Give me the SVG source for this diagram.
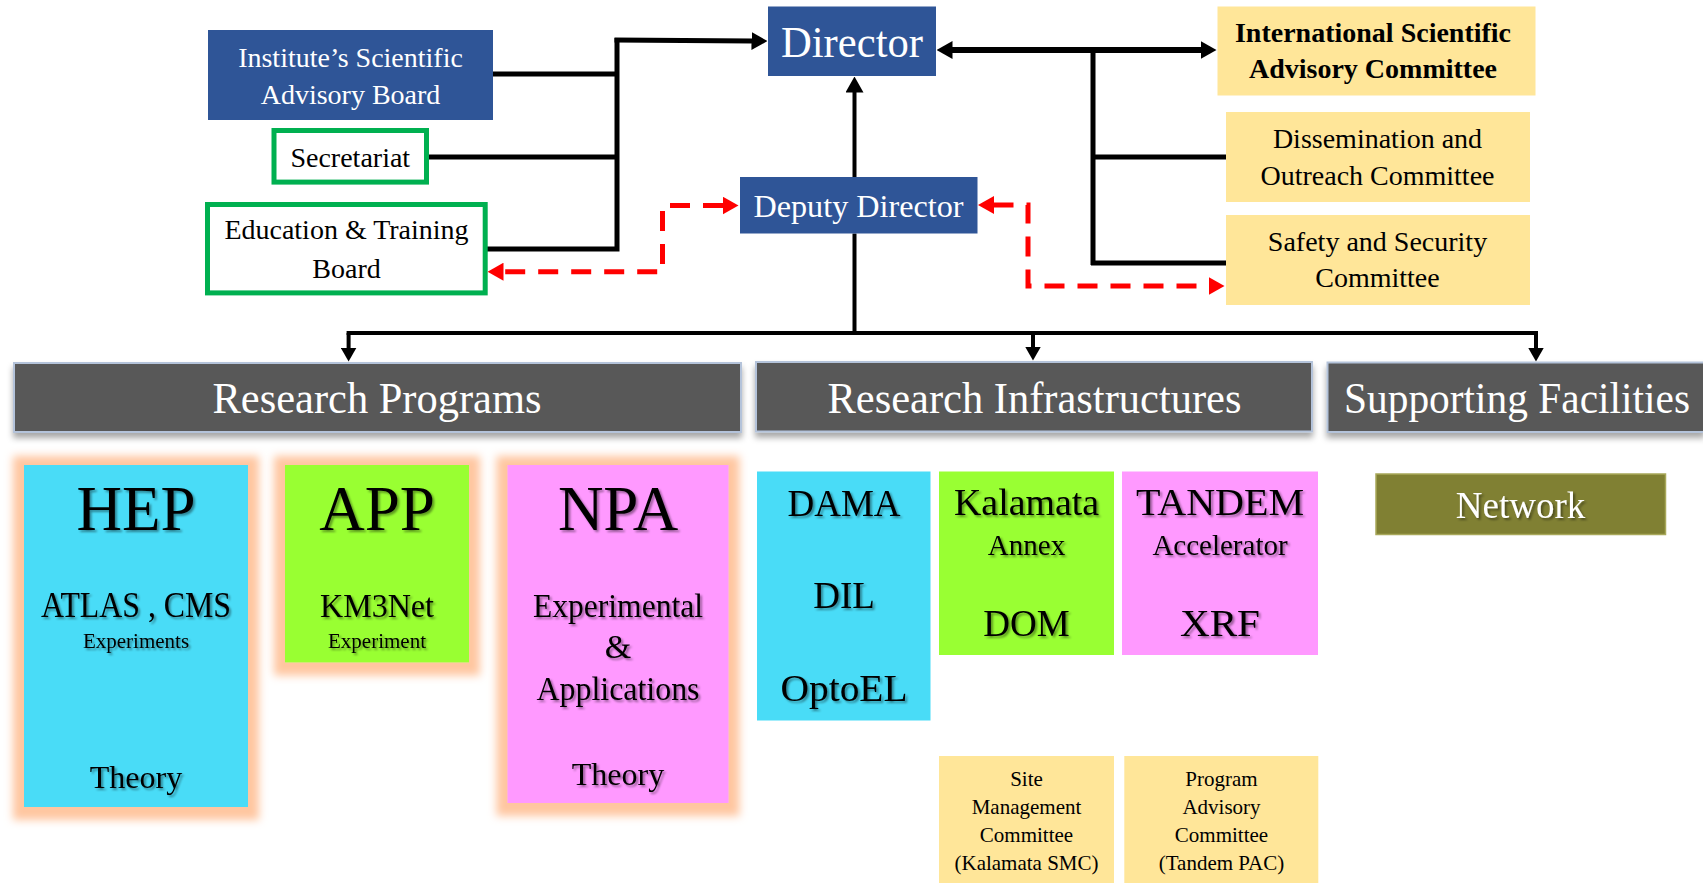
<svg xmlns="http://www.w3.org/2000/svg" width="1703" height="883" viewBox="0 0 1703 883">
<style>
.t{font-family:"Liberation Serif","Times New Roman",serif;text-anchor:middle}
.w{fill:#fff}
.k{fill:#000}
.blue{fill:#2F5597}
.yel{fill:#FFE699}
.grn{fill:#fff;stroke:#00B050;stroke-width:5}
.hdr{fill:#595959;stroke:#B4C3DA;stroke-width:2}
.cy{fill:#49DCF7}
.li{fill:#99FF33}
.pk{fill:#FF99FF}
.ln{fill:none;stroke:#000}
.rd{fill:none;stroke:#FF0000;stroke-width:5;stroke-dasharray:20 13}
</style>
<defs>
<marker id="ak" viewBox="0 0 16 18" refX="0.5" refY="9" markerWidth="16" markerHeight="18" markerUnits="userSpaceOnUse" orient="auto-start-reverse"><path d="M0,0 L16,9 L0,18 z" fill="#000"/></marker>
<marker id="ak2" viewBox="0 0 14 16" refX="0.5" refY="8" markerWidth="14" markerHeight="16" markerUnits="userSpaceOnUse" orient="auto-start-reverse"><path d="M0,0 L14,8 L0,16 z" fill="#000"/></marker>
<marker id="ar" viewBox="0 0 16 18" refX="0.5" refY="9" markerWidth="16" markerHeight="18" markerUnits="userSpaceOnUse" orient="auto-start-reverse"><path d="M0,0 L16,9 L0,18 z" fill="#FF0000"/></marker>
<filter id="glow" filterUnits="userSpaceOnUse" x="0" y="430" width="760" height="420">
<feMorphology in="SourceAlpha" operator="dilate" radius="11" result="d"/>
<feGaussianBlur in="d" stdDeviation="4" result="b"/>
<feOffset in="b" dy="2" result="bo"/>
<feFlood flood-color="#FFC6A0"/>
<feComposite in2="bo" operator="in" result="g"/>
<feMerge><feMergeNode in="g"/><feMergeNode in="SourceGraphic"/></feMerge>
</filter>
<filter id="hs" x="-5%" y="-20%" width="110%" height="160%">
<feDropShadow dx="0" dy="5" stdDeviation="3" flood-color="#000" flood-opacity="0.35"/>
</filter>
<filter id="ts" x="-10%" y="-20%" width="130%" height="150%">
<feDropShadow dx="2" dy="2" stdDeviation="1" flood-color="#000" flood-opacity="0.4"/>
</filter>
</defs>

<g id="connectors">
<path class="ln" stroke-width="5" d="M493,74 H617 M429,157 H617 M487,249 H619.5 M617,38 V251.5"/>
<path class="ln" stroke-width="5" d="M614.5,40 L752,41" marker-end="url(#ak)"/>
<path class="ln" stroke-width="4" d="M854.5,177 V92" marker-end="url(#ak)"/>
<path class="ln" stroke-width="4" d="M854.5,233.5 V333 M346.6,333 H1538"/>
<path class="ln" stroke-width="4" d="M348.6,333 V348" marker-end="url(#ak2)"/>
<path class="ln" stroke-width="4" d="M1033,333 V347" marker-end="url(#ak2)"/>
<path class="ln" stroke-width="4" d="M1536,333 V348" marker-end="url(#ak2)"/>
<path class="ln" stroke-width="6" d="M952,50 H1201" marker-start="url(#ak)" marker-end="url(#ak)"/>
<path class="ln" stroke-width="5" d="M1093,48 V265 M1093,157 H1226 M1091,263 H1226"/>
<path class="rd" d="M723,205.5 H662.5 V271.7 H503" marker-start="url(#ar)" marker-end="url(#ar)"/>
<path class="rd" d="M993.5,205 H1028 V286 H1209" marker-start="url(#ar)" marker-end="url(#ar)"/>
</g>

<g id="isab"><rect class="blue" x="208" y="30" width="285" height="90"/>
<text class="t w" font-size="28" x="350.5" y="66.7">Institute’s Scientific</text>
<text class="t w" font-size="28" x="350.5" y="104">Advisory Board</text></g>

<g id="secretariat"><rect class="grn" x="274" y="130.5" width="152.5" height="51.6"/>
<text class="t k" font-size="28" x="350.3" y="166.7">Secretariat</text></g>

<g id="education"><rect class="grn" x="207.5" y="204.5" width="277.7" height="88.4"/>
<text class="t k" font-size="28" x="346.5" y="239">Education &amp; Training</text>
<text class="t k" font-size="28" x="346.5" y="278">Board</text></g>

<g id="director"><rect class="blue" x="768" y="6.5" width="168" height="69.5"/>
<text class="t w" font-size="45" x="852" y="57" textLength="142" lengthAdjust="spacingAndGlyphs">Director</text></g>

<g id="deputy"><rect class="blue" x="740" y="177" width="237.5" height="56.5"/>
<text class="t w" font-size="32" x="858.5" y="216.7" textLength="210" lengthAdjust="spacingAndGlyphs">Deputy Director</text></g>

<g id="isac"><rect class="yel" x="1217.5" y="6.5" width="318" height="89"/>
<text class="t k" font-size="28" font-weight="bold" x="1373" y="41.7">International Scientific</text>
<text class="t k" font-size="28" font-weight="bold" x="1373" y="78.3">Advisory Committee</text></g>

<g id="dissemination"><rect class="yel" x="1226" y="112" width="304" height="90"/>
<text class="t k" font-size="28" x="1377.5" y="148.3">Dissemination and</text>
<text class="t k" font-size="28" x="1377.5" y="185">Outreach Committee</text></g>

<g id="safety"><rect class="yel" x="1226" y="215" width="304" height="90"/>
<text class="t k" font-size="28" x="1377.5" y="250.7">Safety and Security</text>
<text class="t k" font-size="28" x="1377.5" y="287.3">Committee</text></g>

<g id="research-programs"><rect class="hdr" x="14" y="363" width="727" height="69" filter="url(#hs)"/>
<text class="t w" font-size="44" x="377" y="413" textLength="329" lengthAdjust="spacingAndGlyphs">Research Programs</text></g>

<g id="research-infrastructures"><rect class="hdr" x="756" y="362" width="556" height="69.5" filter="url(#hs)"/>
<text class="t w" font-size="44" x="1034.5" y="413" textLength="414" lengthAdjust="spacingAndGlyphs">Research Infrastructures</text></g>

<g id="supporting-facilities"><rect class="hdr" x="1327.5" y="362.5" width="376.5" height="69.5" filter="url(#hs)"/>
<text class="t w" font-size="44" x="1517" y="413" textLength="346" lengthAdjust="spacingAndGlyphs">Supporting Facilities</text></g>

<g id="hep"><rect class="cy" x="24" y="465" width="224" height="342" filter="url(#glow)"/>
<g filter="url(#ts)">
<text class="t k" font-size="63" x="136" y="530">HEP</text>
<text class="t k" font-size="35" x="136" y="616.7" textLength="190" lengthAdjust="spacingAndGlyphs">ATLAS , CMS</text>
<text class="t k" font-size="21" x="136" y="648">Experiments</text>
<text class="t k" font-size="32" x="136" y="788">Theory</text></g></g>

<g id="app"><rect class="li" x="285" y="465" width="184" height="197.5" filter="url(#glow)"/>
<g filter="url(#ts)">
<text class="t k" font-size="63" x="377" y="530">APP</text>
<text class="t k" font-size="34" x="377" y="616.7" textLength="114" lengthAdjust="spacingAndGlyphs">KM3Net</text>
<text class="t k" font-size="21" x="377" y="648">Experiment</text></g></g>

<g id="npa"><rect class="pk" x="507.5" y="465" width="221" height="338" filter="url(#glow)"/>
<g filter="url(#ts)">
<text class="t k" font-size="63" x="618" y="530">NPA</text>
<text class="t k" font-size="34" x="618" y="616.7" textLength="170" lengthAdjust="spacingAndGlyphs">Experimental</text>
<text class="t k" font-size="34" x="618" y="658">&amp;</text>
<text class="t k" font-size="34" x="618" y="700" textLength="163" lengthAdjust="spacingAndGlyphs">Applications</text>
<text class="t k" font-size="32" x="618" y="785">Theory</text></g></g>

<g id="dama"><rect class="cy" x="757" y="471.5" width="173.5" height="249"/>
<g filter="url(#ts)">
<text class="t k" font-size="37" x="844" y="515.7">DAMA</text>
<text class="t k" font-size="37" x="844" y="608.3">DIL</text>
<text class="t k" font-size="37" x="844" y="700.7" textLength="127" lengthAdjust="spacingAndGlyphs">OptoEL</text></g></g>

<g id="kalamata"><rect class="li" x="939" y="471.5" width="175" height="183.5"/>
<g filter="url(#ts)">
<text class="t k" font-size="37" x="1026.5" y="515" textLength="145" lengthAdjust="spacingAndGlyphs">Kalamata</text>
<text class="t k" font-size="29" x="1026.5" y="555">Annex</text>
<text class="t k" font-size="37" x="1026.5" y="635.7">DOM</text></g></g>

<g id="tandem"><rect class="pk" x="1122" y="471.5" width="196" height="183.5"/>
<g filter="url(#ts)">
<text class="t k" font-size="37" x="1220" y="515" textLength="168" lengthAdjust="spacingAndGlyphs">TANDEM</text>
<text class="t k" font-size="29" x="1220" y="555">Accelerator</text>
<text class="t k" font-size="37" x="1220" y="635.7" textLength="80" lengthAdjust="spacingAndGlyphs">XRF</text></g></g>

<g id="network"><rect x="1376" y="474" width="289.5" height="60.5" fill="#808033" stroke="#A8A85A" stroke-width="1.5"/>
<text class="t w" font-size="37" x="1520.5" y="518" filter="url(#ts)">Network</text></g>

<g id="smc"><rect class="yel" x="939" y="756" width="175" height="130"/>
<text class="t k" font-size="21" x="1026.5" y="785.7">Site</text>
<text class="t k" font-size="21" x="1026.5" y="814">Management</text>
<text class="t k" font-size="21" x="1026.5" y="841.7">Committee</text>
<text class="t k" font-size="21" x="1026.5" y="870">(Kalamata SMC)</text></g>

<g id="pac"><rect class="yel" x="1124.3" y="756" width="194" height="130"/>
<text class="t k" font-size="21" x="1221.5" y="785.7">Program</text>
<text class="t k" font-size="21" x="1221.5" y="814">Advisory</text>
<text class="t k" font-size="21" x="1221.5" y="841.7">Committee</text>
<text class="t k" font-size="21" x="1221.5" y="870">(Tandem PAC)</text></g>
</svg>
